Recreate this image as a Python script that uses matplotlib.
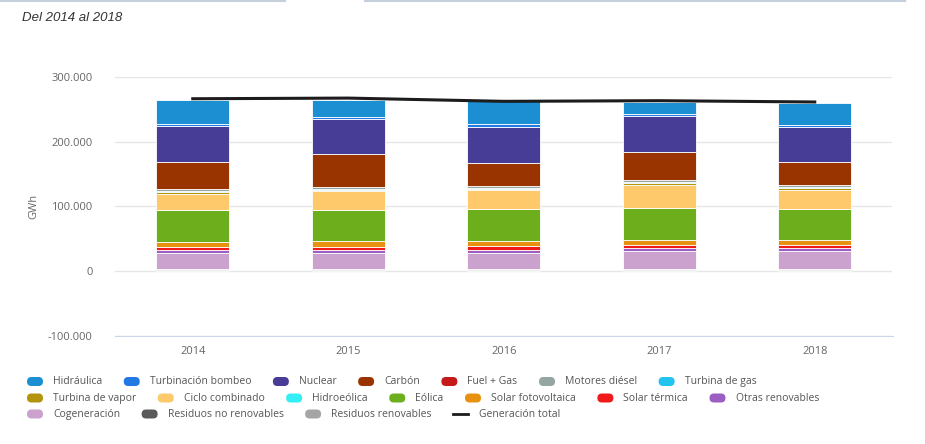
import matplotlib
matplotlib.use("Agg")
import matplotlib.pyplot as plt
import numpy as np
from matplotlib.patches import FancyBboxPatch

plt.rcParams['font.family'] = ['Open Sans', 'DejaVu Sans']

# Datos (GWh)
years = ['2014', '2015', '2016', '2017', '2018']

hidraulica = [37000, 26500, 36000, 19000, 33000]
turbinacion_bombeo = [3500, 3500, 4000, 3000, 3500]
nuclear = [55000, 54000, 55500, 55500, 54000]
carbon = [43000, 50000, 36000, 44000, 36000]
fuel_gas = [0, 0, 0, 0, 0]
motores_diesel = [2800, 2800, 2800, 2800, 2800]
turbina_gas = [1600, 1800, 1600, 2000, 1800]
turbina_vapor = [2600, 2600, 2400, 2600, 2400]
ciclo_combinado = [24000, 28000, 29000, 36000, 30000]
hidroeolica = [8, 18, 18, 21, 21]
eolica = [50000, 49000, 49500, 48000, 48000]
solar_fv = [8000, 8000, 7900, 8000, 7800]
solar_termica = [5000, 5000, 5000, 5500, 4500]
otras_renovables = [4700, 4700, 4500, 4500, 4500]
cogeneracion = [24000, 25000, 25500, 27500, 27500]
residuos_no_renovables = [900, 900, 900, 900, 900]
residuos_renovables = [2400, 2400, 2400, 2400, 2400]
generacion_total = [266000, 267000, 262000, 263000, 261000]

# series in legend order (first one ends up on top of the stack)
series = [
    ('Hidráulica', hidraulica, '#1b8fd2'),
    ('Turbinación bombeo', turbinacion_bombeo, '#2279e3'),
    ('Nuclear', nuclear, '#483d96'),
    ('Carbón', carbon, '#993300'),
    ('Fuel + Gas', fuel_gas, '#c41a1a'),
    ('Motores diésel', motores_diesel, '#93a6a2'),
    ('Turbina de gas', turbina_gas, '#22c3ee'),
    ('Turbina de vapor', turbina_vapor, '#b3940c'),
    ('Ciclo combinado', ciclo_combinado, '#fdc96b'),
    ('Hidroeólica', hidroeolica, '#33eef5'),
    ('Eólica', eolica, '#6cae1c'),
    ('Solar fotovoltaica', solar_fv, '#e8900f'),
    ('Solar térmica', solar_termica, '#f11a1a'),
    ('Otras renovables', otras_renovables, '#9d5ec3'),
    ('Cogeneración', cogeneracion, '#cba2cd'),
    ('Residuos no renovables', residuos_no_renovables, '#5a5a5a'),
    ('Residuos renovables', residuos_renovables, '#a5a5a5'),
]

legend_rows = [
    ['Hidráulica', 'Turbinación bombeo', 'Nuclear', 'Carbón', 'Fuel + Gas',
     'Motores diésel', 'Turbina de gas'],
    ['Turbina de vapor', 'Ciclo combinado', 'Hidroeólica', 'Eólica',
     'Solar fotovoltaica', 'Solar térmica', 'Otras renovables'],
    ['Cogeneración', 'Residuos no renovables', 'Residuos renovables',
     'Generación total'],
]

W, H = 925, 444
fig = plt.figure(figsize=(W / 100, H / 100), dpi=100)
ax = fig.add_axes([115 / W, 1 - 336 / H, (892.5 - 115) / W, (336 - 76.7) / H])

x = np.arange(len(years))
bottom = np.zeros(len(years))
for name, vals, col in reversed(series):
    vals = np.array(vals, dtype=float)
    ax.bar(x, vals, 0.47, bottom=bottom, color=col, edgecolor='white',
           linewidth=0.6, zorder=2)
    bottom += vals

ax.plot(x, generacion_total, color='#1c1c1c', linewidth=2.2, zorder=3)

ax.set_xlim(-0.5, len(years) - 0.5)
ax.set_ylim(-100000, 300000)
ticks = [-100000, 0, 100000, 200000, 300000]
ax.set_yticks(ticks)
ax.set_yticklabels([f'{t:,}'.replace(',', '.') for t in ticks])
ax.set_xticks(x)
ax.set_xticklabels(years)
ax.tick_params(axis='both', length=0, labelsize=8, colors='#666666')
ax.tick_params(axis='y', pad=16)
ax.tick_params(axis='x', pad=7)
ax.grid(axis='y', color='#e6e6e6', linewidth=1, zorder=0)
ax.set_axisbelow(True)
for s in ['top', 'right', 'left']:
    ax.spines[s].set_visible(False)
ax.spines['bottom'].set_color('#ccd6eb')
ax.set_ylabel('GWh', fontsize=8, color='#666666', labelpad=6)

# overlay in pixel coordinates for title, legend and decorations
ov = fig.add_axes([0, 0, 1, 1])
ov.set_xlim(0, W)
ov.set_ylim(H, 0)
ov.axis('off')
ov.patch.set_visible(False)

ov.plot([0, 285], [1, 1], color='#c5d0dc', linewidth=1.5)
ov.plot([365, 905], [1, 1], color='#c5d0dc', linewidth=1.5)
ov.text(22, 18, 'Del 2014 al 2018', fontsize=9.5, style='italic',
        family=['Liberation Sans', 'DejaVu Sans'], color='#333333',
        va='center', ha='left')

colors = {name: col for name, _, col in series}
renderer = fig.canvas.get_renderer()
row_y = [381.5, 398, 414]
for row, y in zip(legend_rows, row_y):
    xpos = 27
    for name in row:
        if name == 'Generación total':
            ov.plot([xpos, xpos + 15], [y, y], color='#1c1c1c', linewidth=2)
        else:
            ov.add_patch(FancyBboxPatch((xpos, y - 4.5), 16, 9,
                                        boxstyle='round,pad=0,rounding_size=4.5',
                                        facecolor=colors[name], edgecolor='none'))
        t = ov.text(xpos + 26, y, name, fontsize=7.5, color='#555555',
                    va='center', ha='left')
        wdt = t.get_window_extent(renderer).width
        xpos = xpos + 26 + wdt + 21.5

fig.savefig('out.png', dpi=100)
